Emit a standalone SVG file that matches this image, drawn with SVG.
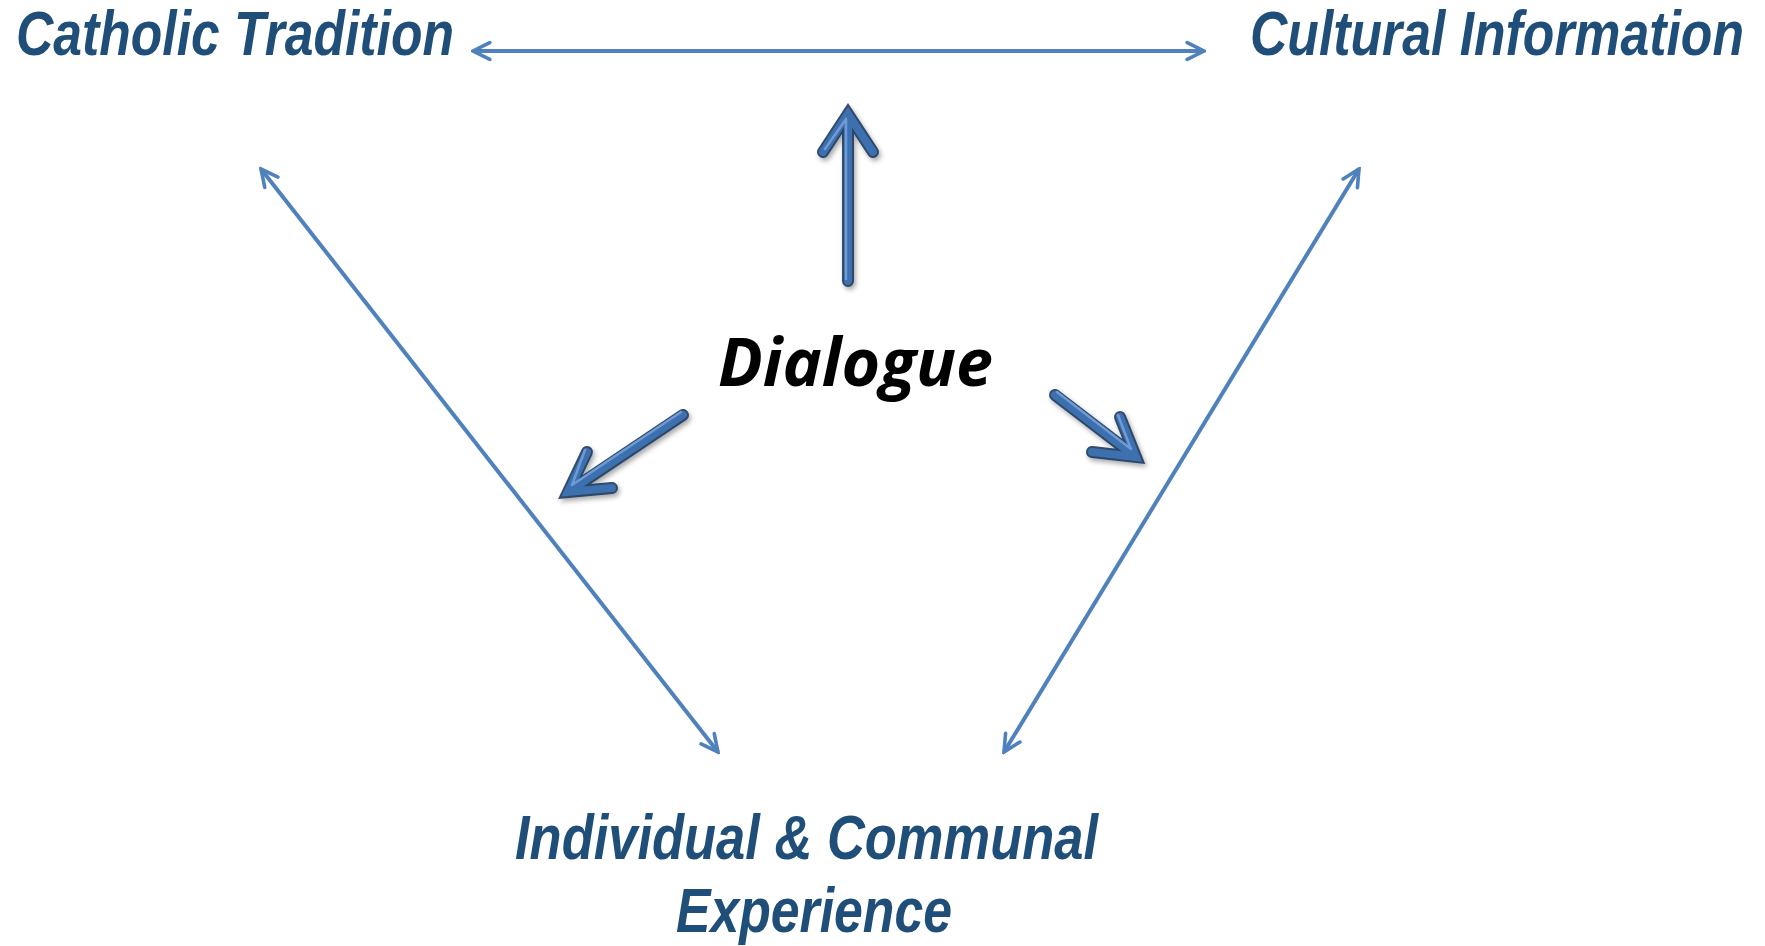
<svg xmlns="http://www.w3.org/2000/svg" width="1765" height="946" viewBox="0 0 1765 946">
<style>
.lbl{font-family:"Liberation Sans Narrow","Liberation Sans",Arial,sans-serif;font-weight:bold;font-style:italic;font-size:63px;fill:#1F4E79}
.dlg{font-family:"Open Sans","Noto Sans",sans-serif;font-weight:bold;font-style:italic;font-size:66px;fill:#000}
.thin{stroke:#4F81BD;stroke-width:4;fill:none;marker-start:url(#ah);marker-end:url(#ah)}
.big-sh{stroke:#1E3A5F;stroke-width:12;fill:none;stroke-linecap:round;stroke-linejoin:miter;opacity:0.9}
.big{stroke:#3E6FAE;stroke-width:8;fill:none;stroke-linecap:round;stroke-linejoin:miter}
.big-hi{stroke:#6E9BD6;stroke-width:2.5;fill:none;stroke-linecap:round;stroke-linejoin:miter}
</style>
<defs>
<marker id="ah" viewBox="0 0 20 20" refX="18" refY="10" markerWidth="6" markerHeight="6" orient="auto-start-reverse" markerUnits="strokeWidth">
<path d="M4,3 L18,10 L4,17" fill="none" stroke="#4F81BD" stroke-width="3" stroke-linecap="round" stroke-linejoin="miter"/>
</marker>
<filter id="shadow" x="-20%" y="-20%" width="140%" height="140%">
<feGaussianBlur in="SourceAlpha" stdDeviation="2.5"/>
<feOffset dx="2" dy="3" result="b"/>
<feComponentTransfer><feFuncA type="linear" slope="0.35"/></feComponentTransfer>
<feMerge><feMergeNode/><feMergeNode in="SourceGraphic"/></feMerge>
</filter>
</defs>
<rect width="1765" height="946" fill="#fff"/>
<g id="connectors">
<line class="thin" x1="473" y1="51" x2="1204" y2="51"/>
<line class="thin" x1="261" y1="169" x2="718" y2="752"/>
<line class="thin" x1="1359" y1="169" x2="1004" y2="752"/>
</g>
<g id="dialogue-arrows" filter="url(#shadow)">
<g id="arrow-up">
<path class="big-sh" d="M848,281 L848,114 M823,152 L848,114 L873,152"/>
<path class="big" d="M848,281 L848,114 M823,152 L848,114 L873,152"/>
<path class="big-hi" d="M846,279 L846,119 M825,149 L846,119"/>
</g>
<g id="arrow-left">
<path class="big-sh" d="M683,415 L568,492 M587,452 L568,492 L612,488"/>
<path class="big" d="M683,415 L568,492 M587,452 L568,492 L612,488"/>
<path class="big-hi" d="M681,412 L572,485 M585,450 L572,485"/>
</g>
<g id="arrow-right">
<path class="big-sh" d="M1055,395 L1136,457 M1120,417 L1136,457 L1092,452"/>
<path class="big" d="M1055,395 L1136,457 M1120,417 L1136,457 L1092,452"/>
<path class="big-hi" d="M1057,392 L1131,449 M1118,415 L1131,449"/>
</g>
</g>
<g id="node-catholic"><text class="lbl" x="16" y="55" textLength="438" lengthAdjust="spacingAndGlyphs">Catholic Tradition</text></g>
<g id="node-cultural"><text class="lbl" x="1250" y="55" textLength="494" lengthAdjust="spacingAndGlyphs">Cultural Information</text></g>
<g id="node-experience">
<text class="lbl" x="515" y="859" textLength="583" lengthAdjust="spacingAndGlyphs">Individual &amp; Communal</text>
<text class="lbl" x="676" y="932" textLength="276" lengthAdjust="spacingAndGlyphs">Experience</text>
</g>
<g id="node-dialogue"><text class="dlg" x="718" y="386" textLength="275" lengthAdjust="spacingAndGlyphs">Dialogue</text></g>
</svg>
